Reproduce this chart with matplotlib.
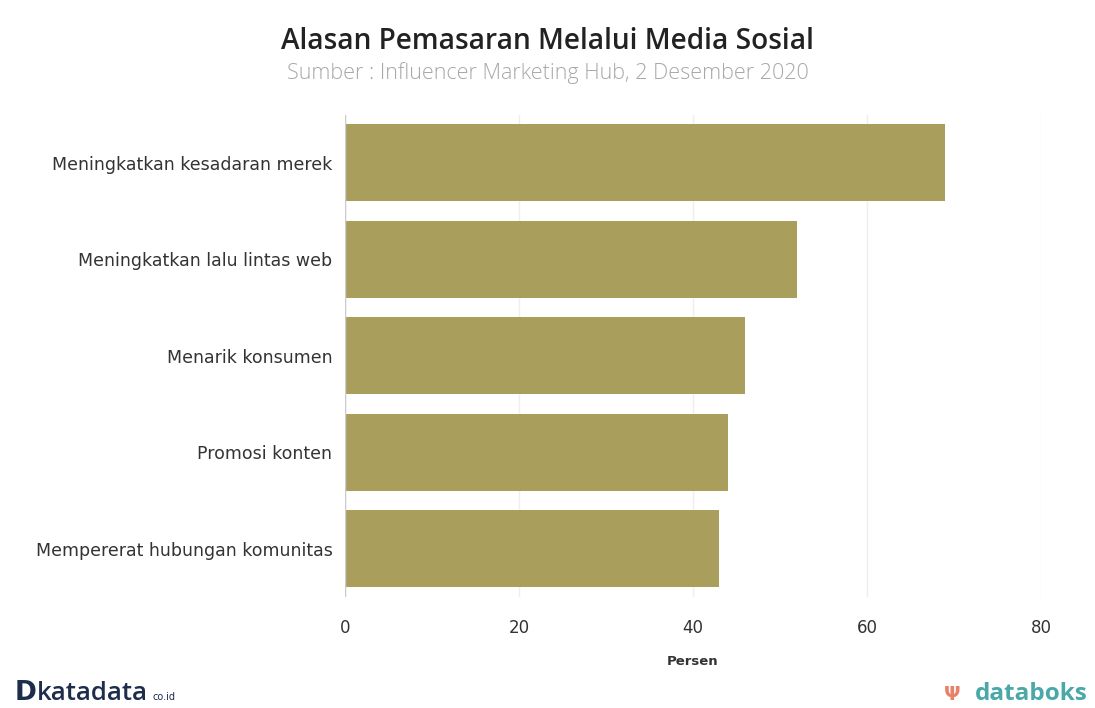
import matplotlib
matplotlib.use("Agg")
import matplotlib.pyplot as plt

categories = ["Meningkatkan kesadaran merek", "Meningkatkan lalu lintas web",
              "Menarik konsumen", "Promosi konten", "Mempererat hubungan komunitas"]
values = [69, 52, 46, 44, 43]
xticks = [0, 20, 40, 60, 80]

fig = plt.figure(figsize=(10.95, 7.08), dpi=100)
ax = fig.add_axes([0.315, 0.157, 0.6357, 0.681])

ypos = list(range(len(categories)))
ax.barh(ypos, values, height=0.8, color="#A99E5B", zorder=3)
ax.set_ylim(len(categories) - 0.5, -0.5)
ax.set_xlim(0, 80)
ax.set_yticks(ypos)
ax.set_yticklabels(categories, fontsize=12.5, color="#333333")
ax.set_xticks(xticks)
ax.set_xticklabels([str(t) for t in xticks], fontsize=12, color="#333333")
ax.tick_params(axis="y", length=0, pad=9)
ax.tick_params(axis="x", length=0, pad=16)
ax.grid(axis="x", color="#eeeeee", linewidth=1, zorder=0)
for s in ax.spines.values():
    s.set_visible(False)
ax.axvline(0, color="#cccccc", linewidth=1, zorder=4)
ax.set_xlabel("Persen", fontsize=9.5, fontweight="bold", color="#333333", labelpad=13)

fig.text(0.5, 0.942, "Alasan Pemasaran Melalui Media Sosial", ha="center", va="center",
         fontsize=20.2, color="#222222", family="Open Sans", fontweight="semibold")
fig.text(0.5, 0.897, "Sumber : Influencer Marketing Hub, 2 Desember 2020", ha="center", va="center",
         fontsize=15.5, color="#a8a8a8", family="Open Sans", fontweight="light")

fig.text(0.013, 0.011, "D", ha="left", va="baseline", fontsize=19, fontweight="heavy", color="#1f2d4d")
fig.text(0.034, 0.011, "katadata", ha="left", va="baseline", fontsize=18.5, color="#1f2d4d",
         family="Open Sans", fontweight="semibold")
fig.text(0.139, 0.011, "co.id", ha="left", va="baseline", fontsize=7, color="#1f2d4d")
fig.text(0.993, 0.011, "databoks", ha="right", va="baseline", fontsize=17.5, fontweight="bold",
         color="#4aa8a8", family="Open Sans")
fig.text(0.877, 0.011, "\u03a8", ha="right", va="baseline", fontsize=14, color="#e8806a",
         fontweight="bold")

fig.savefig("out.png", dpi=100, facecolor="white")
